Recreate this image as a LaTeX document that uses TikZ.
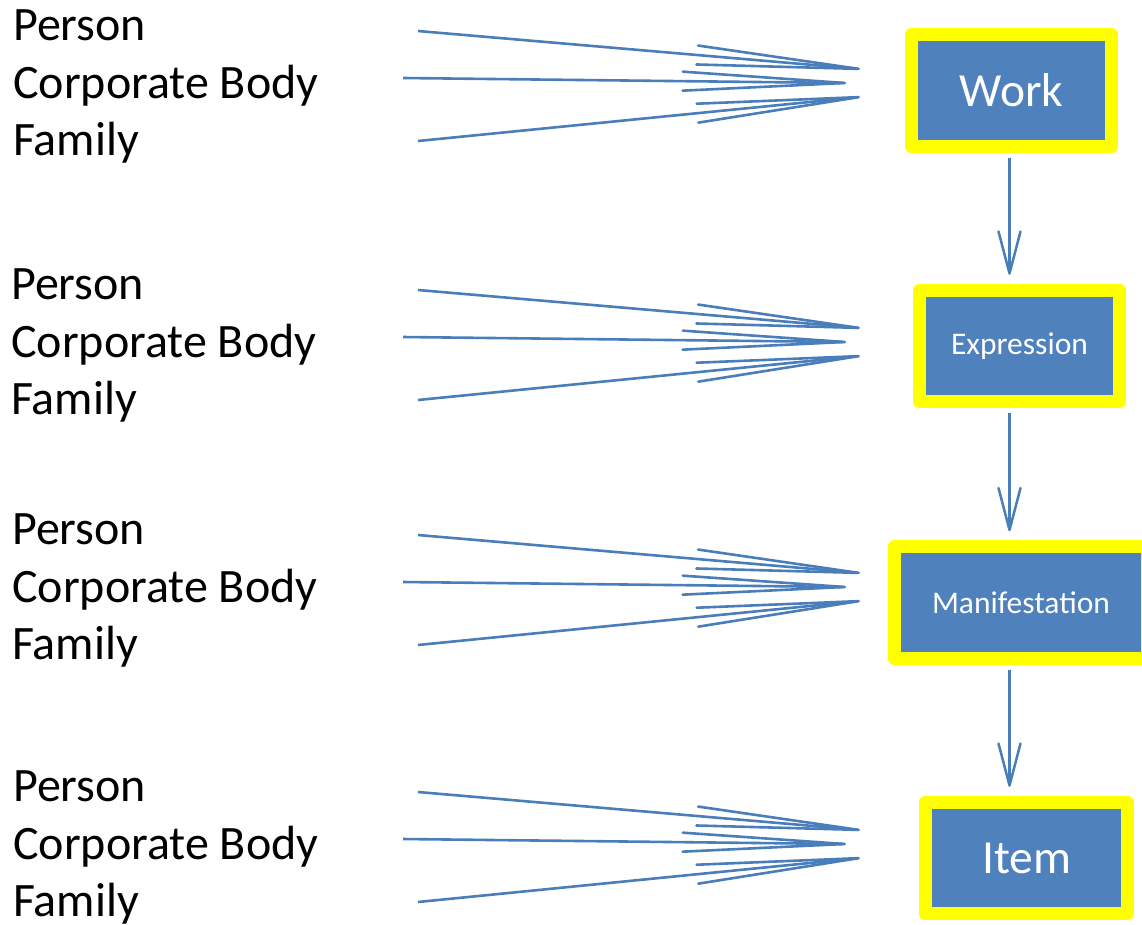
\documentclass[tikz,border=0pt]{standalone}
\usepackage{fontspec}
\setmainfont{Carlito}
\usetikzlibrary{arrows.meta}
\definecolor{boxblue}{HTML}{4F81BD}
\definecolor{arrblue}{HTML}{4A7EBB}
\definecolor{frameyellow}{HTML}{FFFF00}
\begin{document}
\begin{tikzpicture}[x=1pt,y=-1pt,
  lbl/.style={anchor=base west, inner sep=0pt, font=\fontsize{48}{57}\selectfont},
  entity/.style={fill=boxblue, draw=frameyellow, line width=13pt, line join=round,
    text=white, inner sep=0pt, minimum height=111.5pt},
  bigtext/.style={font=\fontsize{47.5}{57}\selectfont},
  smalltext/.style={font=\fontsize{31.5}{38}\selectfont},
  feed/.style={draw=arrblue, line width=2.6pt, -{Straight Barb[length=162pt, width=19pt, round]}},
  down/.style={draw=arrblue, line width=2.5pt, shorten <=5pt, shorten >=9pt,
    -{Straight Barb[length=42pt, width=22pt, round]}}
]
\useasboundingbox (0,0) rectangle (1142,924);
\clip (0,0) rectangle (1142,924);

% entity boxes
\node[entity, bigtext, minimum width=200pt] (work) at (1011.5,90.5) {Work};
\node[entity, smalltext, minimum width=200pt] (expr) at (1019.5,346) {Expression};
\node[entity, smalltext, minimum width=253pt] (manif) at (1021,602.5) {Manifestation};
\node[entity, bigtext, minimum width=202pt] (item) at (1026.5,858) {Item};

% vertical connectors
\coordinate (vx) at (1009.5,0);
\draw[down] (work.south -| vx) -- (expr.north -| vx);
\draw[down] (expr.south -| vx) -- (manif.north -| vx);
\draw[down] (manif.south -| vx) -- (item.north -| vx);

% agent groups
\foreach \g/\m/\tx in {1/78/13, 2/337/11, 3/582/12, 4/839/13} {
  \node[lbl] (person\g) at (\tx,\m-37.5) {Person};
  \node[lbl] (corp\g) at (\tx,\m+20) {Corporate Body};
  \node[lbl] (family\g) at (\tx,\m+77) {Family};
  \coordinate (sa\g) at (418,\m-47);
  \coordinate (sb\g) at (403,\m);
  \coordinate (sc\g) at (418,\m+63);
  \coordinate (ea\g) at (860,\m-9);
  \coordinate (eb\g) at (846,\m+5);
  \coordinate (ec\g) at (860,\m+19);
  \draw[feed] (sa\g) -- (ea\g);
  \draw[feed] (sb\g) -- (eb\g);
  \draw[feed] (sc\g) -- (ec\g);
}
\end{tikzpicture}
\end{document}
